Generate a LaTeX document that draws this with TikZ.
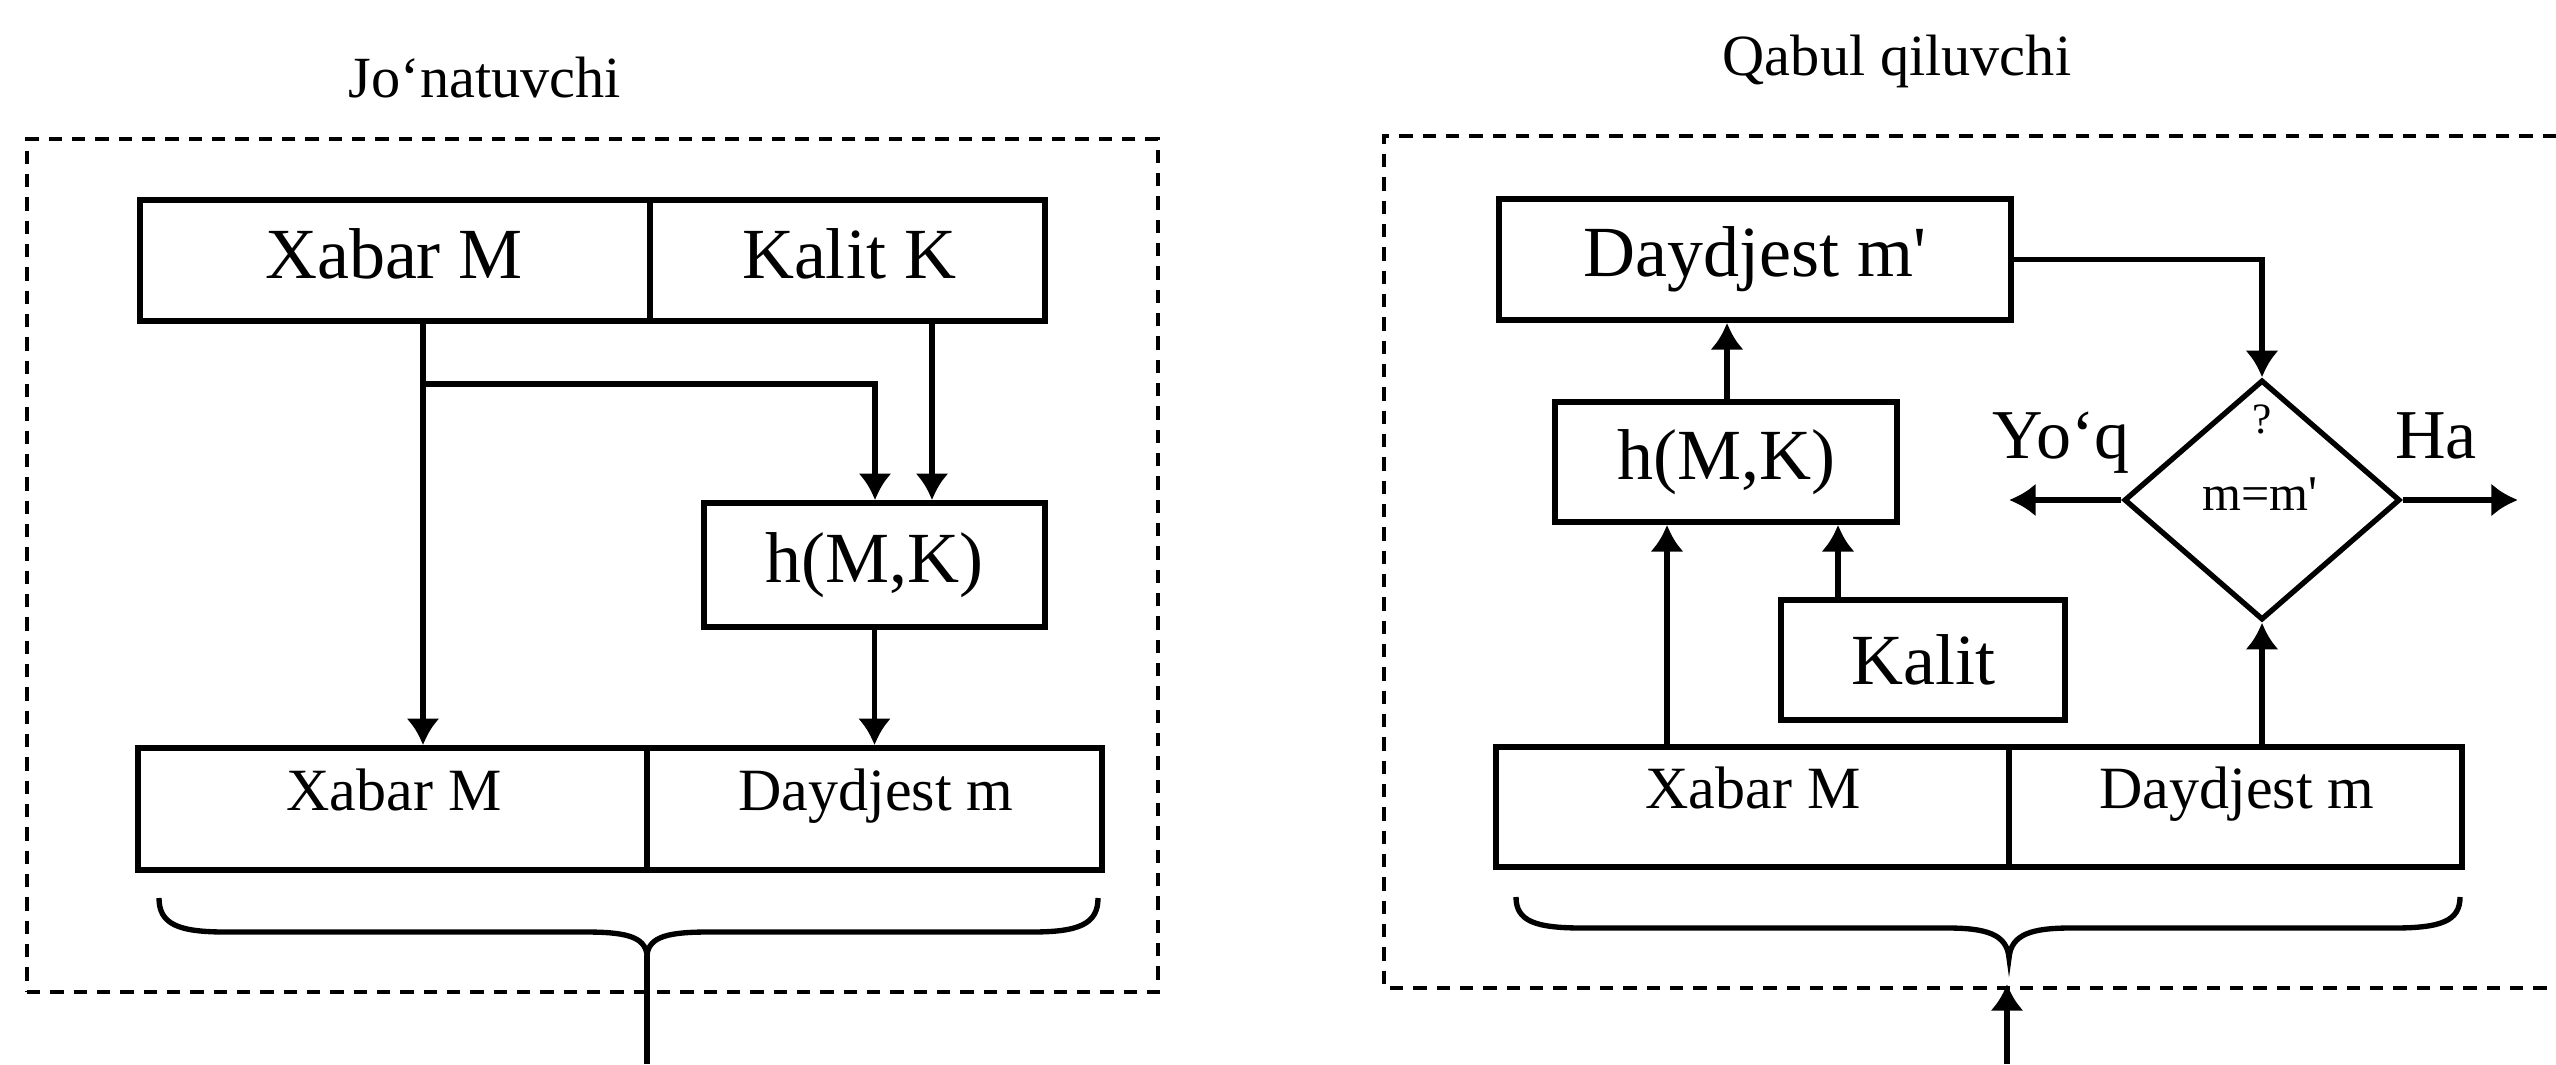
\documentclass[tikz,border=0pt]{standalone}
\usepackage{fontspec}
\setmainfont{Liberation Serif}
\usetikzlibrary{arrows.meta,shapes.geometric,fit}
\begin{document}
\begin{tikzpicture}[x=0.3pt,y=-0.3pt,
  box/.style={draw, line width=1.7pt, inner sep=0pt, rectangle},
  big/.style={font=\fontsize{21.6pt}{24pt}\selectfont, inner sep=0pt},
  mid/.style={font=\fontsize{18pt}{20pt}\selectfont, inner sep=0pt},
  ttl/.style={font=\fontsize{17.5pt}{20pt}\selectfont, inner sep=0pt},
  sml/.style={font=\fontsize{15pt}{17pt}\selectfont, inner sep=0pt},
  tiny/.style={font=\fontsize{13pt}{15pt}\selectfont, inner sep=0pt},
  line/.style={line width=1.6pt},
  arr/.style={line width=1.6pt, -{Latex[length=8pt,width=10pt]}},
  frame/.style={draw, line width=1.4pt, dash pattern=on 4pt off 3pt, inner sep=0pt, rectangle},
]
\useasboundingbox (0,0) rectangle (2556,1064);

% ---------- titles
\node[ttl, anchor=base] (t1) at (485,98) {Jo‘natuvchi};
\node[ttl, anchor=base] (t2) at (1897,76) {Qabul qiluvchi};

% ---------- sender (left)
\node[frame, fit={(27,139) (1158,992)}] (sframe) {};
\node[box, fit={(140,200) (650,321)}] (sxm) {};
\node[box, fit={(650,200) (1045,321)}] (skk) {};
\node[big, anchor=base] (sxmt) at (394,278) {Xabar M};
\node[big, anchor=base] (skkt) at (849,278) {Kalit K};
\node[box, fit={(704,503) (1045,627)}] (sh) {};
\node[big] (sht) at (sh.center) {h(M,K)};
\node[box, fit={(138,748) (647,870)}] (sbx) {};
\node[box, fit={(647,748) (1102,870)}] (sbd) {};
\node[mid, anchor=base] (sbxt) at (394,810) {Xabar M};
\node[mid, anchor=base] (sbdt) at (876,810) {Daydjest m};

\coordinate (sj) at (423,384);
\draw[arr] (423,0 |- sxm.south) -- (423,0 |- sbx.north);
\draw[arr] (sj) -| (875,0 |- sh.north);
\draw[arr] (932,0 |- skk.south) -- (932,0 |- sh.north);
\draw[arr] (sh.south) -- (sh.south |- sbd.north);

\coordinate (sbt) at (647,955);
\coordinate (sout) at (647,1064);
\draw[line] (159,898) .. controls (159,924) and (178,932) .. (225,932) -- (585,932)
  .. controls (624,932) and (645,936) .. (sbt)
  .. controls (649,936) and (670,932) .. (709,932) -- (1032,932)
  .. controls (1079,932) and (1098,924) .. (1098,898);
\draw[line] (sbt) -- (sout);

% ---------- receiver (right)
\draw[line width=1.4pt, dash pattern=on 4pt off 3pt] (2556,136) -| (1384,988) -- (2556,988);
\node[box, fit={(1499,199) (2011,320)}] (rd) {};
\node[big, anchor=base] (rdt) at (1755,277) {Daydjest m\textquotesingle};
\node[box, fit={(1555,402) (1897,522)}] (rh) {};
\node[big] (rht) at (rh.center) {h(M,K)};
\node[box, fit={(1781,600) (2065,720)}] (rk) {};
\node[big] (rkt) at (rk.center) {Kalit};
\node[box, fit={(1496,747) (2009,867)}] (rbx) {};
\node[box, fit={(2009,747) (2462,867)}] (rbd) {};
\node[mid, anchor=base] (rbxt) at (1753,808) {Xabar M};
\node[mid, anchor=base] (rbdt) at (2237,808) {Daydjest m};

\node[draw, diamond, line width=1.6pt, minimum width=82.8pt, minimum height=72pt, inner sep=0pt] (dm) at (2262,500) {};
\node[tiny, anchor=base] (dq) at (2262,433) {?};
\node[sml, anchor=base] (de) at (2260,510) {m=m\textquotesingle};
\node[font=\fontsize{21pt}{24pt}\selectfont, inner sep=0pt, anchor=base] (no) at (2061,458) {Yo‘q};
\node[font=\fontsize{21pt}{24pt}\selectfont, inner sep=0pt, anchor=base] (yes) at (2436,458) {Ha};

\coordinate (noend) at (2009,500);
\coordinate (yesend) at (2518,500);
\draw[arr] (dm.west) -- (noend);
\draw[arr] (dm.east) -- (yesend);
\draw[arr] (rd.east) -| (dm.north);
\draw[arr] (1727,0 |- rh.north) -- (1727,0 |- rd.south);
\draw[arr] (1838,0 |- rk.north) -- (1838,0 |- rh.south);
\draw[arr] (1667,0 |- rbx.north) -- (1667,0 |- rh.south);
\draw[arr] (dm.south |- rbd.north) -- (dm.south);

\coordinate (rbt) at (2009,958);
\draw[line] (1516,897) .. controls (1516,921) and (1535,928) .. (1582,928) -- (1947,928)
  .. controls (1986,928) and (2007,934) .. (rbt)
  .. controls (2011,934) and (2032,928) .. (2071,928) -- (2394,928)
  .. controls (2441,928) and (2460,921) .. (2460,897);
\coordinate (rin) at (2007,1064);
\coordinate (rtip) at (2007,984);
\draw[arr] (rin) -- (rtip);
\end{tikzpicture}
\end{document}
